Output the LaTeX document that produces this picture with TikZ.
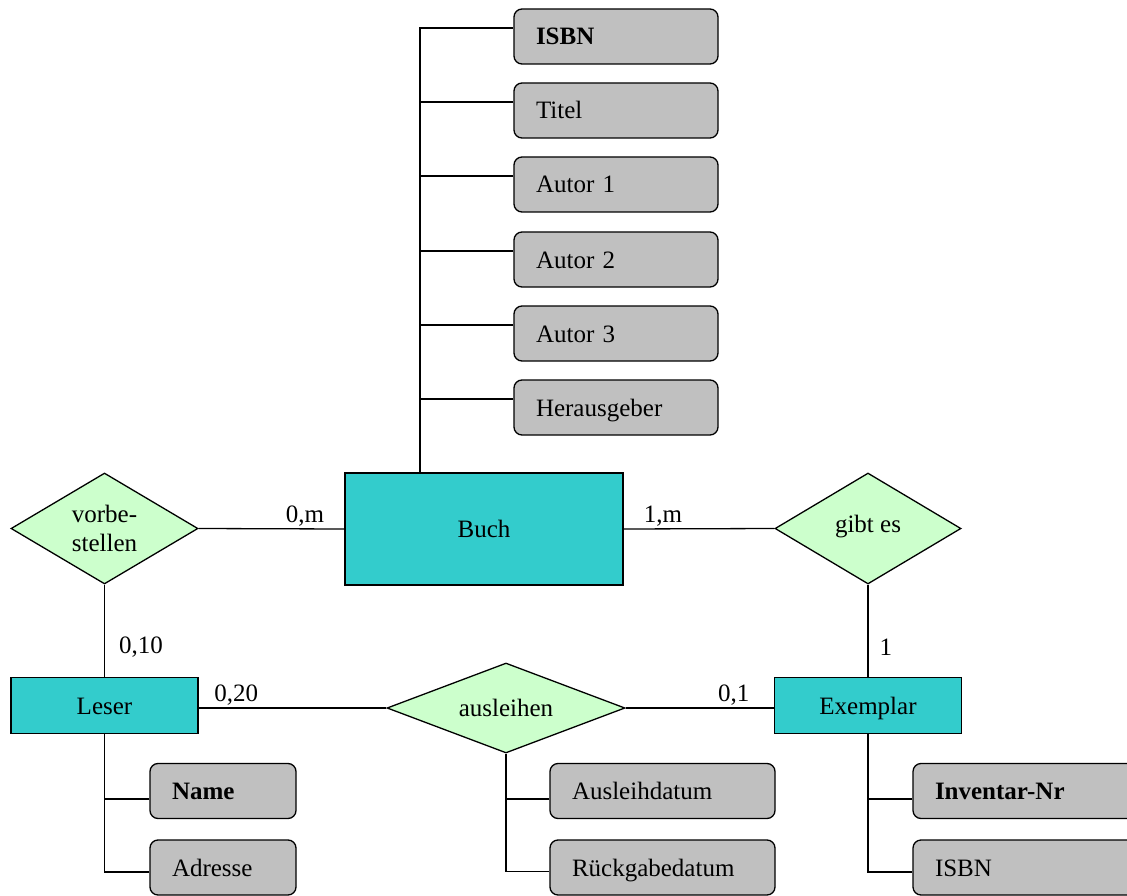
\documentclass[tikz,border=0pt]{standalone}
\usepackage{fontspec}
\setmainfont{Liberation Serif}
\usetikzlibrary{shapes.geometric,calc}
\definecolor{entfill}{HTML}{33CCCC}
\definecolor{relfill}{HTML}{CCFFCC}
\definecolor{attrfill}{HTML}{C0C0C0}
\begin{document}
\begin{tikzpicture}[x=1pt,y=-1pt,
  every node/.style={font=\fontsize{25}{29}\selectfont},
  ent/.style={draw, fill=entfill, line width=1.5pt, inner sep=0pt, text height=17pt, text depth=0pt},
  rel/.style={draw, diamond, fill=relfill, line width=1.3pt, inner sep=0pt, align=center},
  attr/.style={draw, fill=attrfill, rounded corners=8pt, line width=1.3pt, inner xsep=22pt, inner ysep=0pt,
               align=left, text height=17pt, text depth=0pt, minimum height=55pt},
  conn/.style={line width=1.3pt},
  card/.style={inner sep=2pt}]
\clip (0,0) rectangle (1127,896);

% attributes of Buch
\node[attr, text width=160pt] (isbn)   at (616,36.5)  {\textbf{ISBN}};
\node[attr, text width=160pt] (titel)  at (616,110.5) {Titel};
\node[attr, text width=160pt] (autor1) at (616,184.5) {Autor 1};
\node[attr, text width=160pt] (autor2) at (616,259.5) {Autor 2};
\node[attr, text width=160pt] (autor3) at (616,333.5) {Autor 3};
\node[attr, text width=160pt] (heraus) at (616,407.5) {Herausgeber};

% entities
\node[ent, minimum width=278pt, minimum height=112pt] (buch) at (484,529) {Buch};
\node[ent, minimum width=187pt, minimum height=56pt] (leser) at (104.5,705.5) {Leser};
\node[ent, minimum width=187pt, minimum height=56pt] (exemplar) at (868,705.5) {Exemplar};

% relationships
\node[rel, shape aspect=1.68, minimum width=187pt, minimum height=111pt] (vorb) at (104.5,528.5) {vorbe-\\stellen};
\node[rel, shape aspect=1.68, minimum width=186pt, minimum height=111pt, text depth=10pt] (gibt) at (868,528.5) {gibt es};
\node[rel, shape aspect=2.64, minimum width=238pt, minimum height=90pt] (aus) at (506,708) {ausleihen};

% attributes of Leser, ausleihen, Exemplar
\node[attr, text width=102pt] (name)    at (223,791)   {\textbf{Name}};
\node[attr, text width=102pt] (adresse) at (223,867.5) {Adresse};
\node[attr, text width=181pt] (ausdat)  at (662.5,791)   {Ausleihdatum};
\node[attr, text width=181pt] (rueck)   at (662.5,867.5) {Rückgabedatum};
\node[attr, text width=186pt] (invnr)   at (1028,791)   {\textbf{Inventar-Nr}};
\node[attr, text width=186pt] (isbntwo) at (1028,867.5) {ISBN};

% relationship connectors
\draw[conn] (vorb.east) -- node[card, above, pos=0.73] {0,m} (buch.west);
\draw[conn] (buch.east) -- node[card, above, pos=0.26] {1,m} (gibt.west);
\draw[conn] (vorb.south) -- node[card, right, pos=0.68, xshift=12pt] {0,10} (leser.north);
\draw[conn] (gibt.south) -- node[card, right, pos=0.68, xshift=9pt] {1} (exemplar.north);
\draw[conn] (leser.east |- aus.west) -- node[card, above, pos=0.2] {0,20} (aus.west);
\draw[conn] (aus.east) -- node[card, above, pos=0.73] {0,1} (exemplar.west |- aus.east);

% Buch attribute tree
\coordinate (tt) at ($(buch.north)+(-64,0)$);
\coordinate (pisbn) at ($(isbn.west)+(0,-8.5)$);
\draw[conn] (tt) |- (pisbn);
\foreach \n in {titel,autor1,autor2,autor3,heraus}{
  \coordinate (p\n) at ($(\n.west)+(0,-8.5)$);
  \draw[conn] (p\n) -- (p\n -| tt);
}

% Leser attribute tree
\coordinate (pname) at ($(name.west)+(0,8)$);
\coordinate (padresse) at ($(adresse.west)+(0,4.5)$);
\draw[conn] (leser.south) |- (padresse);
\draw[conn] (pname) -- (pname -| leser.south);

% ausleihen attribute tree
\coordinate (pausdat) at ($(ausdat.west)+(0,8)$);
\coordinate (prueck) at ($(rueck.west)+(0,4)$);
\draw[conn] (aus.south) |- (prueck);
\draw[conn] (pausdat) -- (pausdat -| aus.south);

% Exemplar attribute tree
\coordinate (pinvnr) at ($(invnr.west)+(0,8)$);
\coordinate (pisbntwo) at ($(isbntwo.west)+(0,4.5)$);
\draw[conn] (exemplar.south) |- (pisbntwo);
\draw[conn] (pinvnr) -- (pinvnr -| exemplar.south);
\end{tikzpicture}
\end{document}
